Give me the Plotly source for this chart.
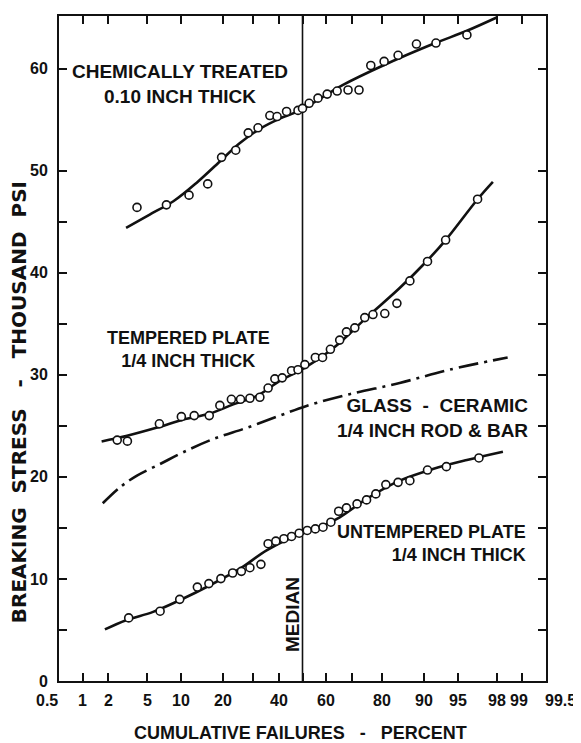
import plotly.graph_objects as go
from statistics import NormalDist

_nd = NormalDist()


def z(p):
    return _nd.inv_cdf(p / 100.0)


# ---------------- data (percent cumulative failures, thousand psi) ----------------
chem_pct = [4.0, 7.5, 11.5, 15.8, 19.6, 24.0, 28.3, 31.9, 36.5, 39.4, 43.3, 48.1, 50.0,
            52.8, 56.5, 60.3, 64.3, 68.5, 72.5, 76.5, 80.6, 84.4, 88.6, 92.1, 95.9]
chem_val = [46.4, 46.65, 47.6, 48.7, 51.3, 52.0, 53.7, 54.2, 55.4, 55.3, 55.8, 55.9, 56.1,
            56.6, 57.1, 57.5, 57.8, 57.9, 57.9, 60.3, 60.7, 61.3, 62.4, 62.5, 63.3]
chem_fit_pct = [3.1, 5.3, 8.6, 13.1, 19.1, 25.4, 32.6, 40.5, 48.9, 66.6, 80.3, 91.6, 95.9, 98.0]
chem_fit_val = [44.4, 45.7, 47.0, 48.8, 50.9, 52.7, 54.1, 55.1, 55.9, 58.4, 60.3, 62.4, 63.7, 65.0]

temp_pct = [2.5, 3.2, 6.5, 10.0, 12.6, 16.2, 19.1, 22.6, 25.6, 28.9, 32.6, 35.8, 38.5, 41.5,
            45.4, 48.1, 51.0, 55.4, 58.4, 61.6, 65.3, 67.9, 71.0, 74.5, 77.2, 80.8, 84.1,
            87.2, 90.7, 93.5, 96.8]
temp_val = [23.6, 23.5, 25.2, 25.9, 26.0, 26.0, 27.0, 27.6, 27.6, 27.7, 27.8, 28.7, 29.6, 29.7,
            30.4, 30.5, 31.0, 31.7, 31.7, 32.5, 33.4, 34.2, 34.6, 35.6, 35.9, 36.0, 37.0,
            39.2, 41.1, 43.2, 47.2]
temp_fit_pct = [1.68, 3.1, 6.1, 10.3, 16.4, 23.2, 31.3, 40.5, 50.3, 62.7, 75.1, 84.8, 90.5,
                93.5, 96.8, 97.8]
temp_fit_val = [23.47, 24.0, 24.8, 25.6, 26.2, 27.1, 27.9, 29.4, 30.6, 32.6, 35.6, 38.5, 41.1,
                43.2, 47.2, 48.9]

glass_fit_pct = [1.73, 2.67, 3.96, 6.6, 10.3, 17.2, 27.7, 40.5, 51.7, 69.1, 84.8, 94.0, 98.5]
glass_fit_val = [17.41, 18.97, 20.1, 21.26, 22.4, 23.7, 24.8, 26.0, 26.95, 28.1, 29.2, 30.5, 31.7]

untemp_pct = [3.3, 6.6, 9.7, 13.3, 16.1, 19.4, 23.0, 25.9, 28.9, 33.0, 35.8, 38.9, 42.2, 45.4,
              48.6, 52.0, 55.4, 58.6, 61.8, 64.9, 67.9, 71.8, 75.1, 78.1, 81.1, 84.4, 87.2,
              90.7, 93.6, 96.9]
untemp_val = [6.18, 6.84, 8.0, 9.2, 9.54, 10.03, 10.58, 10.74, 11.1, 11.43, 13.45, 13.7, 13.94,
              14.16, 14.48, 14.75, 14.9, 15.07, 15.56, 16.63, 16.96, 17.35, 17.74, 18.33, 19.24,
              19.46, 19.63, 20.67, 21.0, 21.85]
untemp_fit_pct = [1.83, 3.1, 5.7, 9.7, 16.4, 25.4, 35.2, 46.0, 57.3, 65.3, 75.1, 84.8, 91.6,
                  95.9, 98.3]
untemp_fit_val = [5.05, 5.96, 6.77, 7.91, 9.38, 11.0, 12.8, 14.1, 15.07, 16.04, 17.84, 19.63,
                  20.77, 21.65, 22.46]

x_tick_pct = [0.5, 1, 2, 5, 10, 20, 30, 40, 50, 60, 70, 80, 90, 95, 98, 99, 99.5]
x_label_pct = [0.5, 1, 2, 5, 10, 20, 40, 60, 80, 90, 95, 98, 99, 99.5]
x_label_txt = ["0.5", "1", "2", "5", "10", "20", "40", "60", "80", "90", "95", "98", "99", "99.5"]
y_tick_vals = [0, 5, 10, 15, 20, 25, 30, 35, 40, 45, 50, 60]
y_label_vals = [0, 10, 20, 30, 40, 50, 60]
median_pct = 50

Y_MAX = 65.15
X_MIN, X_MAX = z(0.5), z(99.5)

BOLD = "Liberation Sans, Arial, sans-serif"
BLACK = "#111111"

fig = go.Figure()


def fit(pcts, vals, dash="solid"):
    fig.add_trace(go.Scatter(
        x=[z(p) for p in pcts], y=vals, mode="lines",
        line=dict(color=BLACK, width=2.6, shape="spline", dash=dash),
        showlegend=False, hoverinfo="skip"))


def pts(pcts, vals):
    fig.add_trace(go.Scatter(
        x=[z(p) for p in pcts], y=vals, mode="markers",
        marker=dict(symbol="circle", size=8, color="white",
                    line=dict(color=BLACK, width=1.6)),
        showlegend=False, hoverinfo="skip"))


# median line
fig.add_trace(go.Scatter(x=[z(median_pct), z(median_pct)], y=[0, Y_MAX], mode="lines",
                         line=dict(color=BLACK, width=1.6), showlegend=False,
                         hoverinfo="skip"))

fit(chem_fit_pct, chem_fit_val)
fit(temp_fit_pct, temp_fit_val)
fit(glass_fit_pct, glass_fit_val, dash="20px,6px,3px,6px")
fit(untemp_fit_pct, untemp_fit_val)
pts(chem_pct, chem_val)
pts(temp_pct, temp_val)
pts(untemp_pct, untemp_val)

y_ticktext = [str(v) if v in y_label_vals else "" for v in y_tick_vals]

# the page body adds an 8px offset, so the figure is 8px smaller on each side
fig.update_layout(
    width=573, height=735,
    margin=dict(l=51, r=35, t=6, b=62),
    paper_bgcolor="white", plot_bgcolor="white",
    showlegend=False,
    xaxis=dict(range=[X_MIN, X_MAX], showgrid=False, zeroline=False,
               showline=True, linecolor=BLACK, linewidth=2, mirror="ticks",
               ticks="inside", ticklen=8, tickwidth=1.5, tickcolor=BLACK,
               tickvals=[z(p) for p in x_tick_pct], showticklabels=False),
    yaxis=dict(range=[0, Y_MAX], showgrid=False, zeroline=False,
               showline=True, linecolor=BLACK, linewidth=2, mirror="ticks",
               ticks="inside", ticklen=8, tickwidth=1.5, tickcolor=BLACK,
               tickvals=y_tick_vals, ticktext=y_ticktext,
               tickfont=dict(family=BOLD, size=16, color=BLACK, weight="bold"),
               ticklabelstandoff=6),
)

ann = []
for p, t in zip(x_label_pct, x_label_txt):
    shift = 0
    if p == 0.5:
        shift = -12
    elif p == 99.5:
        shift = 14
    elif p == 99:
        shift = -3
    ann.append(dict(x=z(p), xref="x", y=0, yref="paper", yshift=-19, xshift=shift,
                    text=t, showarrow=False, xanchor="center", yanchor="middle",
                    font=dict(family=BOLD, size=16, color=BLACK, weight="bold")))


def lab(size):
    return dict(family=BOLD, size=size, color=BLACK, weight="bold")


ann += [
    dict(x=0.2485, y=0.8976, xref="paper", yref="paper", showarrow=False,
         text="CHEMICALLY TREATED<br>0.10 INCH THICK", align="center",
         xanchor="center", yanchor="middle", font=lab(19)),
    dict(x=0.2649, y=0.4988, xref="paper", yref="paper", showarrow=False,
         text="TEMPERED PLATE<br>1/4 INCH THICK", align="center",
         xanchor="center", yanchor="middle", font=lab(18)),
    dict(x=0.9671, y=0.395, xref="paper", yref="paper", showarrow=False,
         text="GLASS  -  CERAMIC<br>1/4 INCH ROD &amp; BAR", align="right",
         xanchor="right", yanchor="middle", font=lab(19)),
    dict(x=0.963, y=0.2064, xref="paper", yref="paper", showarrow=False,
         text="UNTEMPERED PLATE<br>1/4 INCH THICK", align="right",
         xanchor="right", yanchor="middle", font=lab(18)),
    dict(x=0.478, y=0.1004, xref="paper", yref="paper", showarrow=False,
         text="MEDIAN", textangle=-90, xanchor="center", yanchor="middle",
         font=lab(19)),
    dict(x=0.495, y=-0.078, xref="paper", yref="paper", showarrow=False,
         text="CUMULATIVE FAILURES \u00a0 - \u00a0 PERCENT",
         xanchor="center", yanchor="middle", font=lab(18)),
    dict(x=-0.0832, y=0.42, xref="paper", yref="paper", showarrow=False,
         text="BREAKING\u00a0 STRESS \u00a0\u00a0-\u00a0\u00a0 THOUSAND\u00a0 PSI", textangle=-90,
         xanchor="center", yanchor="middle",
         font=dict(family="DejaVu Sans, sans-serif", size=20, color=BLACK, weight="bold")),
]
fig.update_layout(annotations=ann)

fig.write_html("out.html")
